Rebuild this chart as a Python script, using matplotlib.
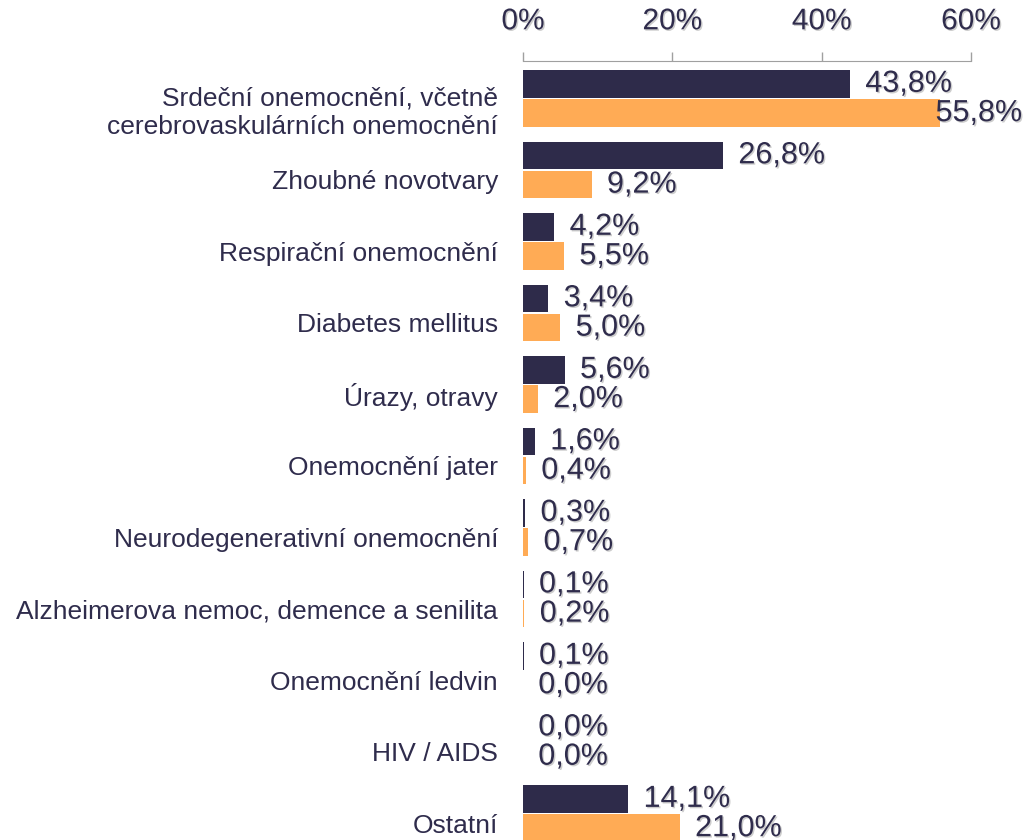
import matplotlib.pyplot as plt
import matplotlib.patheffects as pe
from matplotlib.transforms import ScaledTranslation
import numpy as np

plt.rcParams['font.family'] = ['Liberation Sans', 'DejaVu Sans']

categories = [
    "Srdeční onemocnění, včetně\ncerebrovaskulárních onemocnění",
    "Zhoubné novotvary",
    "Respirační onemocnění",
    "Diabetes mellitus",
    "Úrazy, otravy",
    "Onemocnění jater",
    "Neurodegenerativní onemocnění",
    "Alzheimerova nemoc, demence a senilita",
    "Onemocnění ledvin",
    "HIV / AIDS",
    "Ostatní",
]
series_dark = [43.8, 26.8, 4.2, 3.4, 5.6, 1.6, 0.3, 0.1, 0.1, 0.0, 14.1]
series_orange = [55.8, 9.2, 5.5, 5.0, 2.0, 0.4, 0.7, 0.2, 0.0, 0.0, 21.0]
xticks = [0, 20, 40, 60]

dark = '#2e2b4a'
orange = '#ffab55'
text_col = '#2f2c4c'

fig = plt.figure(figsize=(10.25, 8.4), dpi=100)
ax = fig.add_axes([523 / 1025, 0, 448 / 1025, 1 - 61 / 840])

y = np.arange(len(categories))
off, h = 0.205, 0.385
ax.barh(y - off, series_dark, height=h, color=dark)
ax.barh(y + off, series_orange, height=h, color=orange)

ax.set_xlim(0, 60)
ax.set_ylim(10.37, -0.524)

shadow = [pe.withSimplePatchShadow(offset=(1, -1), shadow_rgbFace='#b8b8b8', alpha=0.7)]

ax.xaxis.tick_top()
ax.set_xticks(xticks)
ax.set_xticklabels([f"{t}%" for t in xticks])
ax.tick_params(axis='x', direction='out', length=6.5, width=1, color='#a0a0a0',
               pad=12, labelsize=21.5, labelcolor=text_col)
for lab in ax.get_xticklabels():
    lab.set_path_effects(shadow)

ax.set_yticks(y)
ax.set_yticklabels(categories, fontsize=19, color=text_col, linespacing=1.22)
ax.tick_params(axis='y', length=0, pad=18)
shift = ScaledTranslation(0, -7 / 72, fig.dpi_scale_trans)
for lab in ax.get_yticklabels():
    lab.set_transform(lab.get_transform() + shift)

for s in ['left', 'right', 'bottom']:
    ax.spines[s].set_visible(False)
ax.spines['top'].set_color('#a0a0a0')

labels = []
for vals, dy in [(series_dark, -off), (series_orange, off)]:
    for i, v in enumerate(vals):
        t = ax.annotate(f"{v:.1f}".replace('.', ',') + '%', xy=(v, i + dy),
                        xytext=(11, 0), textcoords='offset points',
                        va='center', ha='left', fontsize=22, color=text_col,
                        path_effects=shadow, annotation_clip=False)
        labels.append(t)

# keep labels inside the figure, like the original chart does
fig.canvas.draw()
r = fig.canvas.get_renderer()
for t in labels:
    bb = t.get_window_extent(r)
    if bb.x1 > 1022:
        x, yy = t.xyann
        t.xyann = (x - (bb.x1 - 1022) * 72 / fig.dpi, yy)

fig.savefig('out.png', dpi=100)
